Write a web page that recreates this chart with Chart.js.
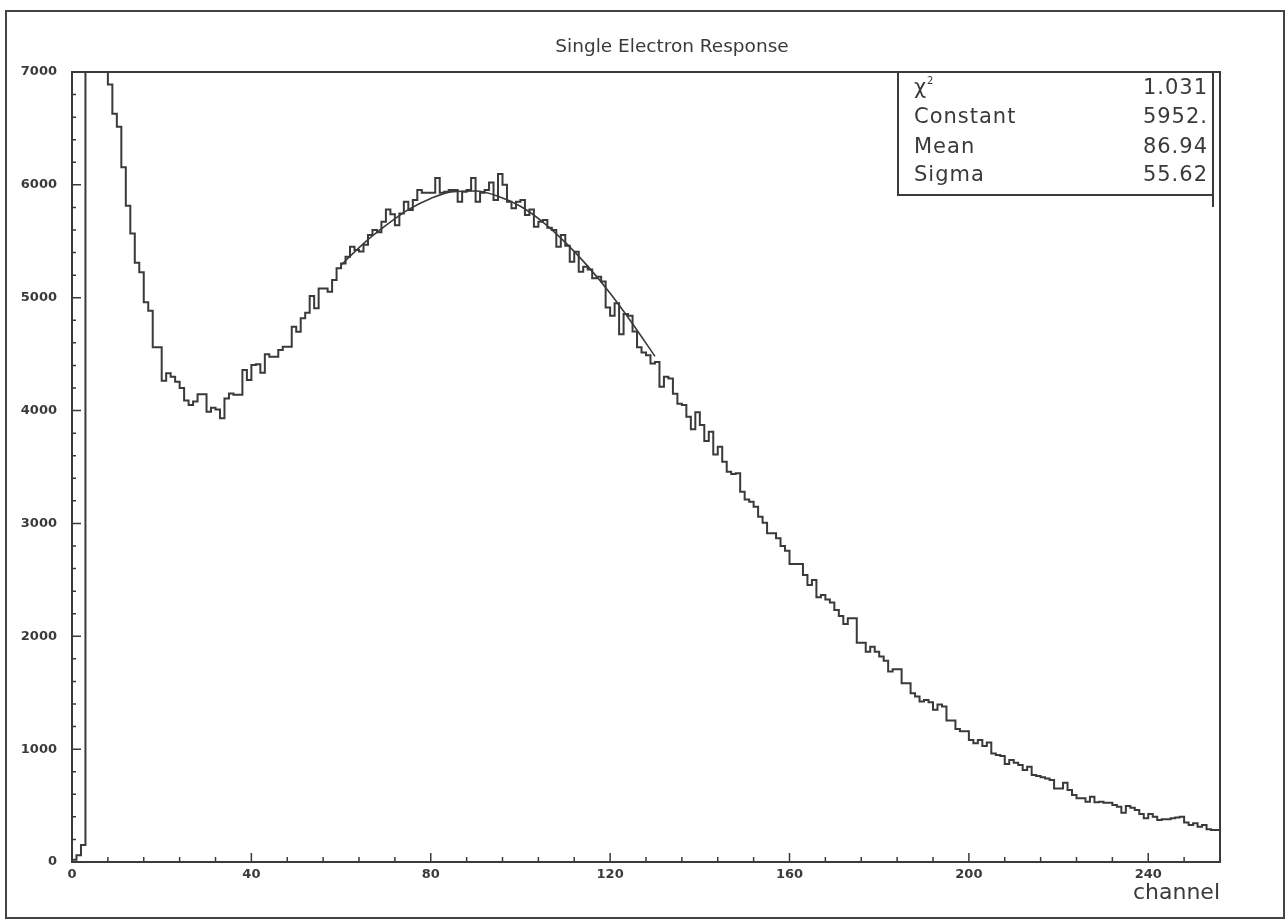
<!DOCTYPE html>
<html>
<head>
<meta charset="utf-8">
<title>Single Electron Response</title>
<script src="https://cdn.jsdelivr.net/npm/chart.js@4.4.1/dist/chart.umd.min.js"></script>
<style>
  html, body { margin: 0; padding: 0; background: #fff; }
  #wrap { position: relative; width: 1286px; height: 922px; }
  #frame { position: absolute; left: 5px; top: 10px; width: 1276px; height: 905px; border: 2px solid #444; pointer-events: none; }
</style>
</head>
<body>
<div id="wrap">
  <canvas id="chart"></canvas>
  <div id="frame"></div>
</div>
<script>
// counts per channel (channels 3-7 run off the top)
const counts = [
  20, 60, 150, 14000, 12500, 10500, 9000, 7600, 6890, 6630, 6515, 6155, 5815, 5570, 5310, 5225,
  4960, 4885, 4560, 4560, 4265, 4330, 4300, 4255, 4200, 4090, 4050, 4080, 4144, 4144, 3990, 4025,
  4010, 3931, 4107, 4151, 4140, 4140, 4359, 4270, 4403, 4410, 4335, 4500, 4477, 4477, 4536, 4566,
  4566, 4743, 4698, 4817, 4867, 5015, 4906, 5082, 5082, 5052, 5156, 5260, 5304, 5363, 5452, 5422,
  5410, 5470, 5555, 5600, 5580, 5673, 5782, 5740, 5643, 5747, 5851, 5777, 5866, 5954, 5930, 5930,
  5930, 6060, 5930, 5940, 5954, 5954, 5851, 5939, 5954, 6060, 5851, 5930, 5954, 6020, 5866, 6096,
  6000, 5851, 5792, 5850, 5866, 5732, 5782, 5629, 5672, 5688, 5620, 5600, 5452, 5555, 5460, 5319,
  5408, 5230, 5275, 5250, 5172, 5185, 5143, 4913, 4840, 4950, 4677, 4855, 4840, 4700, 4560, 4515,
  4490, 4417, 4430, 4210, 4299, 4285, 4150, 4061, 4049, 3945, 3835, 3985, 3872, 3730, 3813, 3610,
  3680, 3546, 3458, 3437, 3445, 3281, 3213, 3192, 3148, 3060, 3006, 2912, 2912, 2868, 2800, 2759,
  2640, 2640, 2640, 2543, 2454, 2499, 2345, 2366, 2327, 2300, 2232, 2180, 2109, 2159, 2159, 1943,
  1943, 1864, 1908, 1864, 1820, 1784, 1687, 1708, 1708, 1584, 1584, 1495, 1466, 1422, 1436, 1415,
  1348, 1395, 1377, 1253, 1253, 1179, 1158, 1158, 1081, 1052, 1081, 1028, 1058, 962, 948, 940,
  868, 904, 880, 859, 815, 845, 770, 762, 750, 740, 726, 652, 652, 703, 638, 593,
  564, 564, 534, 579, 529, 534, 526, 526, 505, 490, 437, 496, 480, 461, 425, 387,
  425, 402, 372, 378, 378, 387, 395, 402, 349, 328, 343, 313, 328, 290, 284, 284
];

// fitted curve, read at a few channels
const fitChannels = [60, 65, 70, 75, 80, 85, 90, 95, 100, 105, 110, 115, 120, 125, 130];
const fitValues = [5290, 5480, 5640, 5780, 5880, 5940, 5945, 5900, 5810, 5670, 5490, 5280, 5040, 4770, 4480];

const statNames = ['χ', 'Constant', 'Mean', 'Sigma'];
const statValues = ['1.031', '5952.', '86.94', '55.62'];
const chartTitle = 'Single Electron Response';

const ink = '#3a3a3a';
Chart.defaults.font.family = "'DejaVu Sans', sans-serif";
Chart.defaults.color = ink;

const histPoints = counts.map((v, i) => ({ x: i, y: v }));
histPoints.push({ x: counts.length, y: counts[counts.length - 1] });
const fitPoints = fitChannels.map((c, i) => ({ x: c, y: fitValues[i] }));

// title, frame, inward ticks and the stats box
const pawDecor = {
  id: 'pawDecor',
  afterDraw(chart) {
    const { ctx, chartArea: a, scales } = chart;
    ctx.save();
    ctx.fillStyle = ink;
    ctx.font = "18.5px 'DejaVu Sans', sans-serif";
    ctx.textAlign = 'center';
    ctx.textBaseline = 'middle';
    ctx.fillText(chartTitle, 672, 47);

    ctx.strokeStyle = ink;
    ctx.lineWidth = 2;
    ctx.strokeRect(a.left, a.top, a.right - a.left, a.bottom - a.top);

    ctx.lineWidth = 1.5;
    ctx.beginPath();
    for (let v = 0; v <= 7000; v += 200) {
      const y = scales.y.getPixelForValue(v);
      const len = v % 1000 === 0 ? 9 : 4;
      ctx.moveTo(a.left, y);
      ctx.lineTo(a.left + len, y);
    }
    for (let c = 0; c <= 256; c += 8) {
      const x = scales.x.getPixelForValue(c);
      const len = c % 40 === 0 ? 9 : 5;
      ctx.moveTo(x, a.bottom);
      ctx.lineTo(x, a.bottom - len);
    }
    ctx.stroke();

    // stats box
    const bx = 898, by = a.top, bw = 315, bh = 123;
    ctx.fillStyle = '#fff';
    ctx.fillRect(bx, by, bw, bh);
    ctx.lineWidth = 2;
    ctx.strokeRect(bx, by, bw, bh);
    ctx.beginPath();
    ctx.moveTo(bx + bw, by + bh);
    ctx.lineTo(bx + bw, by + bh + 12);
    ctx.stroke();

    ctx.fillStyle = ink;
    ctx.textBaseline = 'middle';
    ctx.font = "21px 'DejaVu Sans', sans-serif";
    ctx.letterSpacing = '1px';
    const rowY = [89, 118, 148, 176];
    statNames.forEach((name, i) => {
      ctx.textAlign = 'left';
      ctx.fillText(name, 914, rowY[i]);
      if (i === 0) {
        ctx.font = "10px 'DejaVu Sans', sans-serif";
        ctx.fillText('2', 927, rowY[i] - 8);
        ctx.font = "21px 'DejaVu Sans', sans-serif";
      }
      ctx.textAlign = 'right';
      ctx.fillText(statValues[i], 1208, rowY[i]);
    });
    ctx.restore();
  }
};

const ctx = document.getElementById('chart').getContext('2d');
new Chart(ctx, {
  type: 'line',
  data: {
    datasets: [
      {
        label: 'counts',
        data: histPoints,
        borderColor: ink,
        borderWidth: 2,
        pointRadius: 0,
        stepped: true,
        fill: false
      },
      {
        label: 'fit',
        data: fitPoints,
        borderColor: ink,
        borderWidth: 1.6,
        pointRadius: 0,
        tension: 0.4,
        cubicInterpolationMode: 'monotone',
        fill: false
      }
    ]
  },
  options: {
    responsive: true,
    maintainAspectRatio: false,
    animation: false,
    layout: { padding: { left: 0, right: 66, top: 72, bottom: 16 } },
    plugins: {
      legend: { display: false },
      tooltip: { enabled: false },
      title: { display: false }
    },
    scales: {
      x: {
        type: 'linear',
        min: 0,
        max: 256,
        grid: { display: false, drawTicks: false },
        border: { display: false },
        ticks: { stepSize: 40, includeBounds: false, padding: 5, maxRotation: 0, font: { size: 13, weight: 'bold' }, callback: v => String(v) },
        title: { display: true, text: 'channel', align: 'end', font: { size: 22 }, padding: 0 },
        afterFit: s => { s.height = 44; }
      },
      y: {
        min: 0,
        max: 7000,
        grid: { display: false, drawTicks: false },
        border: { display: false },
        ticks: { stepSize: 1000, padding: 15, font: { size: 13, weight: 'bold' }, callback: v => String(v) },
        afterFit: s => { s.width = 72; }
      }
    }
  },
  plugins: [pawDecor]
});
</script>
</body>
</html>
